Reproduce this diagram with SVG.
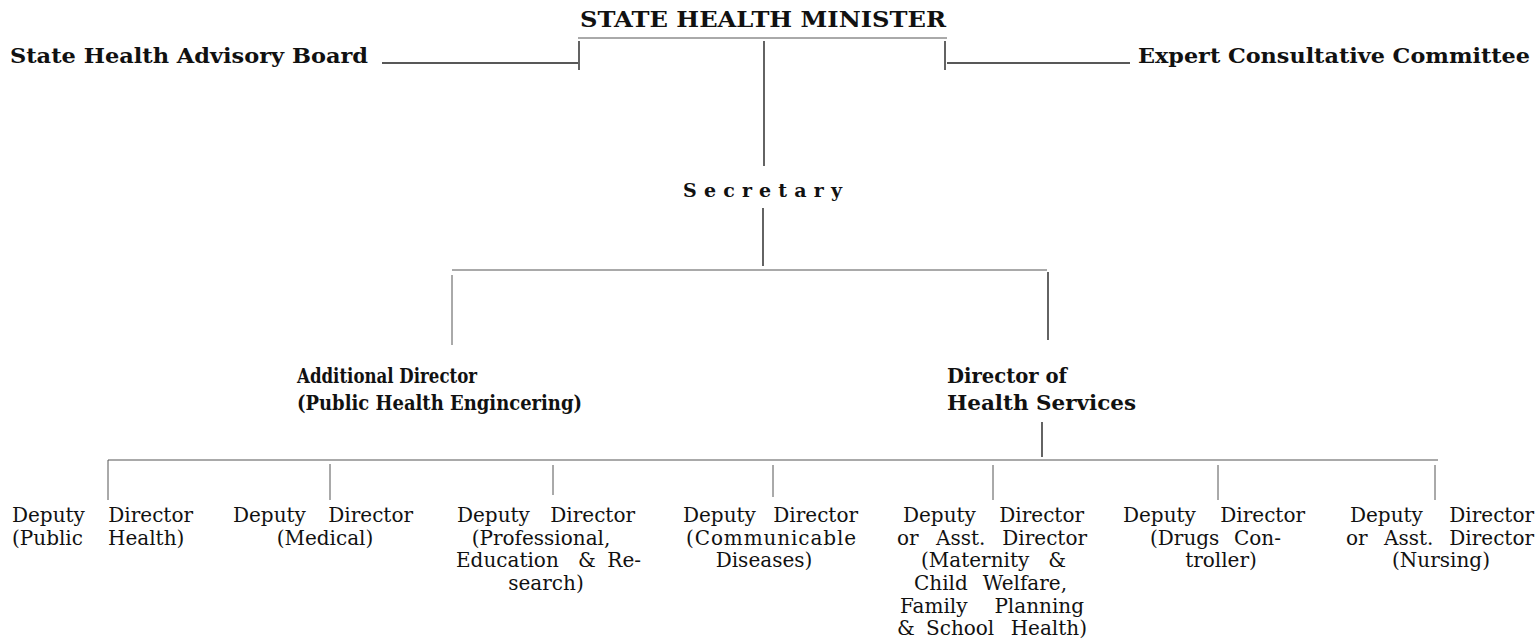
<svg xmlns="http://www.w3.org/2000/svg" width="1539" height="639" viewBox="0 0 1539 639">
<style>
.b{font-family:"DejaVu Serif","Liberation Serif",serif;font-weight:bold;fill:#111}
.r{font-family:"DejaVu Serif","Liberation Serif",serif;font-size:20px;fill:#111}
.m{text-anchor:middle}
.e{text-anchor:end}
.l{stroke:#222;stroke-width:1.4;fill:none}
.f{stroke:#555;stroke-width:1;fill:none}
</style>
<rect width="1539" height="639" fill="#fff"/>
<g id="connectors">
<path class="f" d="M578 38 H947"/>
<path class="l" d="M579 41 V70 M945 41 V70"/>
<path class="l" d="M382 63 H578 M947 63 H1130"/>
<path class="l" d="M764 41 V166"/>
<path class="l" d="M763 208 V266"/>
<path class="f" d="M452 270 H1047"/>
<path class="f" d="M452 275 V345"/>
<path class="l" d="M1048 272 V340"/>
<path class="l" d="M1042 422 V457"/>
<path class="f" d="M108 460 H1438"/>
<path class="f" d="M108 460 V500 M330 464 V500 M553 465 V495 M773 465 V497 M993 465 V500 M1218 465 V500 M1435 465 V500"/>
</g>
<g id="minister"><text class="b m" x="763" y="27" font-size="22" textLength="366" lengthAdjust="spacingAndGlyphs">STATE HEALTH MINISTER</text></g>
<g id="advisory"><text class="b" x="10" y="63" font-size="21" textLength="358" lengthAdjust="spacingAndGlyphs">State Health Advisory Board</text></g>
<g id="expert"><text class="b" x="1138" y="63" font-size="21" textLength="392" lengthAdjust="spacingAndGlyphs">Expert Consultative Committee</text></g>
<g id="secretary"><text class="b" x="683" y="197" font-size="19" textLength="159" lengthAdjust="spacing">Secretary</text></g>
<g id="addl"><text class="b" x="297" y="383" font-size="20" textLength="180" lengthAdjust="spacingAndGlyphs">Additional Director</text><text class="b" x="297" y="410" font-size="20" textLength="285" lengthAdjust="spacingAndGlyphs">(Public Health Engincering)</text></g>
<g id="dhs"><text class="b" x="947" y="383" font-size="20" textLength="120" lengthAdjust="spacingAndGlyphs">Director of</text><text class="b" x="947" y="410" font-size="20" textLength="189" lengthAdjust="spacingAndGlyphs">Health Services</text></g>
<g id="dd1"><text class="r" x="12" y="522">Deputy</text><text class="r e" x="193" y="522">Director</text><text class="r" x="12" y="545">(Public</text><text class="r" x="108" y="545">Health)</text></g>
<g id="dd2"><text class="r" x="233" y="522">Deputy</text><text class="r e" x="413" y="522">Director</text><text class="r m" x="325" y="545">(Medical)</text></g>
<g id="dd3"><text class="r" x="457" y="522">Deputy</text><text class="r e" x="635" y="522">Director</text><text class="r m" x="541" y="545">(Professional,</text><text class="r" x="456" y="567">Education</text><text class="r m" x="587" y="567">&amp;</text><text class="r e" x="641" y="567">Re-</text><text class="r m" x="546" y="590">search)</text></g>
<g id="dd4"><text class="r" x="683" y="522">Deputy</text><text class="r e" x="858" y="522">Director</text><text class="r m" x="771" y="545" textLength="170" lengthAdjust="spacing">(Communicable</text><text class="r m" x="764" y="567">Diseases)</text></g>
<g id="dd5"><text class="r" x="903" y="522">Deputy</text><text class="r e" x="1084" y="522">Director</text><text class="r" x="897" y="545">or</text><text class="r" x="936" y="545">Asst.</text><text class="r e" x="1087" y="545">Director</text><text class="r" x="921" y="567">(Maternity</text><text class="r e" x="1066" y="567">&amp;</text><text class="r" x="914" y="590">Child</text><text class="r e" x="1067" y="590">Welfare,</text><text class="r" x="900" y="613">Family</text><text class="r e" x="1084" y="613">Planning</text><text class="r" x="897" y="635">&amp;</text><text class="r" x="926" y="635">School</text><text class="r e" x="1087" y="635">Health)</text></g>
<g id="dd6"><text class="r" x="1123" y="522">Deputy</text><text class="r e" x="1305" y="522">Director</text><text class="r" x="1150" y="545">(Drugs</text><text class="r e" x="1281" y="545">Con-</text><text class="r m" x="1221" y="567">troller)</text></g>
<g id="dd7"><text class="r" x="1350" y="522">Deputy</text><text class="r e" x="1534" y="522">Director</text><text class="r" x="1346" y="545">or</text><text class="r" x="1384" y="545">Asst.</text><text class="r e" x="1534" y="545">Director</text><text class="r m" x="1441" y="567">(Nursing)</text></g>
</svg>
